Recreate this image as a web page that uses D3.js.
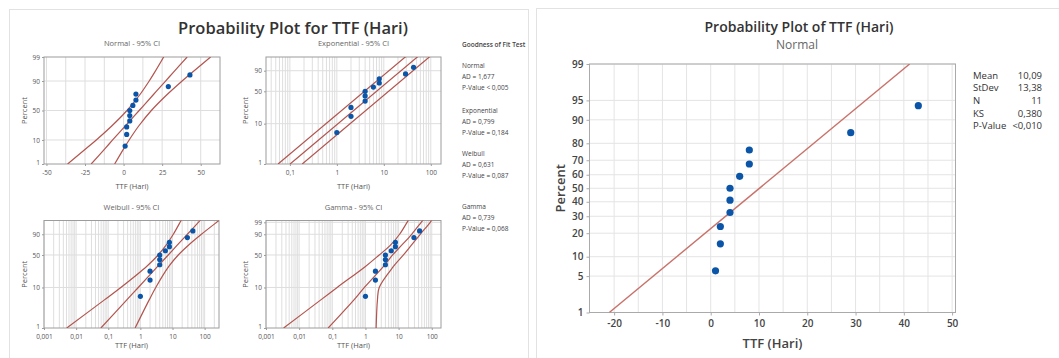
<!DOCTYPE html>
<html>
<head>
<meta charset="utf-8">
<script src="https://cdn.jsdelivr.net/npm/d3@7/dist/d3.min.js"></script>
<style>
  body { margin: 0; background: #fff; }
  svg { display: block; font-family: "Open Sans", "Noto Sans", sans-serif; }
</style>
</head>
<body>
<svg id="chart" width="1059" height="358"></svg>
<script>
// ---- data ----
const ttf = [1, 2, 2, 4, 4, 4, 6, 8, 8, 29, 43]
const percentRank = [6.1, 14.9, 23.7, 32.5, 41.2, 50.0, 58.8, 67.5, 76.3, 85.1, 93.9]

// fitted lines and 95% CI bands, x values at given percents
const normPct = [1, 5, 10, 25, 50, 75, 90, 95, 99]
const normFit = [-21.0, -11.9, -7.1, 1.1, 10.1, 19.1, 27.2, 32.1, 41.2]
const normLo = [-36.3, -24.1, -17.7, -7.7, 2.2, 10.4, 16.6, 20.0, 26.0]
const normHi = [-5.8, 0.2, 3.6, 9.8, 18.0, 27.9, 37.9, 44.2, 56.4]

const expPct = [1, 99.5]
const expFit = [0.101, 53.5]
const expLo = [0.056, 29.6]
const expHi = [0.183, 96.5]

const weibPct = [1, 5, 10, 30, 50, 70, 90, 99, 99.5]
const weibFit = [0.059, 0.378, 0.86, 3.45, 7.36, 13.8, 29.0, 63.8, 74.9]
const weibLo = [0.0051, 0.076, 0.246, 1.56, 3.58, 6.23, 10.6, 17.2, 18.9]
const weibHi = [0.686, 1.88, 3.01, 7.66, 15.1, 30.7, 79.3, 236, 296]

const gamPct = [1, 5, 10, 30, 50, 70, 90, 99, 99.5]
const gamFit = [0.075, 0.45, 0.93, 3.5, 6.6, 12.2, 24.8, 48, 55]
const gamLo = [0.0034, 0.045, 0.14, 1.0, 2.6, 5.6, 10.7, 18, 20]
const gamHi = [2.1, 2.3, 2.6, 7.0, 14, 24, 45, 90, 100]

const rightPct = [1, 99]
const rightFit = [-21.0, 41.2]

const gofNames = ['Normal', 'Exponential', 'Weibull', 'Gamma']
const gofAD = ['1,677', '0,799', '0,631', '0,739']
const gofP = ['< 0,005', '= 0,184', '= 0,087', '= 0,068']

const statLabels = ['Mean', 'StDev', 'N', 'KS', 'P-Value']
const statValues = ['10,09', '13,38', '11', '0,380', '<0,010']

const normXTicks = [-50, -25, 0, 25, 50]
const normXGrid = [-50, -37.5, -25, -12.5, 0, 12.5, 25, 37.5, 50]
const pctTicksSmall = [1, 10, 50, 90, 99]
const pctTicksWeib = [1, 10, 50, 90]
const pctTicksGam = [1, 10, 50, 90, 99]
const expXTicks = [0.1, 1, 10, 100]
const expXLabels = ['0,1', '1', '10', '100']
const logXTicks = [0.001, 0.01, 0.1, 1, 10, 100]
const logXLabels = ['0,001', '0,01', '0,1', '1', '10', '100']
const rightXTicks = [-20, -10, 0, 10, 20, 30, 40, 50]
const rightXGrid = [-20, -15, -10, -5, 0, 5, 10, 15, 20, 25, 30, 35, 40, 45, 50]
const rightYTicks = [1, 5, 10, 20, 30, 40, 50, 60, 70, 80, 90, 95, 99]

const svg = d3.select('#chart')

// inverse normal cdf (Acklam) for the probability axis
function qnorm(p) {
    const a = [-39.69683028665376, 220.9460984245205, -275.9285104469687, 138.3577518672690, -30.66479806614716, 2.506628277459239]
    const b = [-54.47609879822406, 161.5858368580409, -155.6989798598866, 66.80131188771972, -13.28068155288572]
    const c = [-0.007784894002430293, -0.3223964580411365, -2.400758277161838, -2.549732539343734, 4.374664141464968, 2.938163982698783]
    const d = [0.007784695709041462, 0.3224671290700398, 2.445134137142996, 3.754408661907416]
    const plow = 0.02425
    if (p < plow) {
        const q = Math.sqrt(-2 * Math.log(p))
        return (((((c[0] * q + c[1]) * q + c[2]) * q + c[3]) * q + c[4]) * q + c[5]) / ((((d[0] * q + d[1]) * q + d[2]) * q + d[3]) * q + 1)
    }
    if (p > 1 - plow) return -qnorm(1 - p)
    const q = p - 0.5, r = q * q
    return (((((a[0] * r + a[1]) * r + a[2]) * r + a[3]) * r + a[4]) * r + a[5]) * q / (((((b[0] * r + b[1]) * r + b[2]) * r + b[3]) * r + b[4]) * r + 1)
}
const tNorm = p => qnorm(p / 100)
const tWeib = p => Math.log(-Math.log(1 - p / 100))

function logGrid(lo, hi) {
    const out = []
    for (let e = -3; e <= 2; e++)
        for (let m = 1; m < 10; m++) {
            const v = m * Math.pow(10, e)
            if (v >= lo && v <= hi) out.push(v)
        }
    return out
}

let clipN = 0
function probPanel(o) {
    const g = svg.append('g')
    const x = (o.log ? d3.scaleLog() : d3.scaleLinear()).domain(o.xDomain).range([o.left, o.right])
    const yl = d3.scaleLinear().domain([o.t(o.pDomain[0]), o.t(o.pDomain[1])]).range([o.bottom, o.top])
    const y = p => yl(o.t(p))

    g.append('g').selectAll('line').data(o.xGrid).join('line')
        .attr('x1', d => x(d)).attr('x2', d => x(d))
        .attr('y1', o.top).attr('y2', o.bottom)
        .attr('stroke', o.grid).attr('stroke-width', 1)
    g.append('g').selectAll('line').data(o.yGrid).join('line')
        .attr('x1', o.left).attr('x2', o.right)
        .attr('y1', d => y(d)).attr('y2', d => y(d))
        .attr('stroke', o.grid).attr('stroke-width', 1)

    g.append('rect')
        .attr('x', o.left).attr('y', o.top)
        .attr('width', o.right - o.left).attr('height', o.bottom - o.top)
        .attr('fill', 'none').attr('stroke', o.frame).attr('stroke-width', 1)

    const ax = g.append('g').attr('transform', `translate(0,${o.bottom})`)
        .call(d3.axisBottom(x).tickValues(o.xTicks).tickFormat((d, i) => o.xLabels[i]).tickSize(o.tick).tickPadding(o.padX))
    const ay = g.append('g').attr('transform', `translate(${o.left},0)`)
        .call(d3.axisLeft(yl).tickValues(o.yTicks.map(o.t)).tickFormat((d, i) => o.yTicks[i]).tickSize(o.tick).tickPadding(o.pad))
    ;[ax, ay].forEach(a => {
        a.select('.domain').remove()
        a.selectAll('line').attr('stroke', o.frame)
        a.selectAll('text').attr('font-size', o.fs).attr('fill', o.text)
            .attr('font-family', '"Open Sans", sans-serif').attr('font-weight', o.weight)
    })
    // lowest percent label sits a touch higher, as in the reference
    ay.selectAll('.tick text').filter((d, i) => i === 0).attr('dy', o.firstDy)

    const id = 'clip' + (clipN++)
    svg.append('clipPath').attr('id', id).append('rect')
        .attr('x', o.left).attr('y', o.top)
        .attr('width', o.right - o.left).attr('height', o.bottom - o.top)

    const line = d3.line().x(d => x(d[1])).y(d => y(d[0])).curve(d3.curveCatmullRom)
    const cg = g.append('g').attr('clip-path', `url(#${id})`)
    o.curves.forEach(cv => {
        cg.append('path').datum(d3.zip(o.pct, cv)).attr('d', line)
            .attr('fill', 'none').attr('stroke', o.lineColor).attr('stroke-width', o.lineWidth)
    })

    g.append('g').selectAll('circle').data(d3.zip(ttf, percentRank)).join('circle')
        .attr('cx', d => x(d[0])).attr('cy', d => y(d[1])).attr('r', o.r)
        .attr('fill', '#0b55a8')

    if (o.title) g.append('text').attr('x', (o.left + o.right) / 2).attr('y', o.top - 11)
        .attr('text-anchor', 'middle').attr('font-size', 7.5).attr('fill', '#666').text(o.title)
    g.append('text').attr('x', (o.left + o.right) / 2).attr('y', o.xTitleY)
        .attr('text-anchor', 'middle').attr('font-size', o.axisFs).attr('fill', o.text)
        .attr('font-weight', o.weight).text('TTF (Hari)')
    g.append('text').attr('transform', `translate(${o.yTitleX},${(o.top + o.bottom) / 2}) rotate(-90)`)
        .attr('text-anchor', 'middle').attr('font-size', o.axisFs).attr('fill', o.text)
        .attr('font-weight', o.weight).text('Percent')
}

// panel backgrounds
svg.append('rect').attr('x', 9.5).attr('y', 9.5).attr('width', 519).attr('height', 360)
    .attr('fill', '#fff').attr('stroke', '#e2e2e2')
svg.append('rect').attr('x', 536.5).attr('y', 8.5).attr('width', 540).attr('height', 360)
    .attr('fill', '#fff').attr('stroke', '#e2e2e2')

// ---- left: four distribution plots ----
svg.append('text').attr('x', 293).attr('y', 34).attr('text-anchor', 'middle')
    .attr('font-size', 16.5).attr('font-weight', 600).attr('fill', '#333')
    .text('Probability Plot for TTF (Hari)')

const small = {
    tick: 2, pad: 2, padX: 4, firstDy: '0.05em', fs: 6.5, axisFs: 7.5, text: '#555', weight: 400,
    grid: '#dedede', frame: '#9c9c9c', lineColor: '#b3544e', lineWidth: 1.2, r: 2.6
}

probPanel(Object.assign({}, small, {
    left: 44, right: 220, top: 57, bottom: 164,
    xDomain: [-51.6, 62.5], t: tNorm, pDomain: [1, 99],
    xTicks: normXTicks, xLabels: normXTicks, xGrid: normXGrid,
    yTicks: pctTicksSmall, yGrid: [10, 50, 90],
    pct: normPct, curves: [normLo, normFit, normHi],
    title: 'Normal - 95% CI', xTitleY: 189, yTitleX: 27
}))
probPanel(Object.assign({}, small, {
    left: 266, right: 441, top: 57, bottom: 164, log: true,
    xDomain: [0.031, 165], t: tWeib, pDomain: [1, 99.4],
    xTicks: expXTicks, xLabels: expXLabels, xGrid: logGrid(0.031, 165),
    yTicks: pctTicksWeib, yGrid: [10, 50, 90],
    pct: expPct, curves: [expLo, expFit, expHi],
    title: 'Exponential - 95% CI', xTitleY: 189, yTitleX: 248
}))
probPanel(Object.assign({}, small, {
    left: 44, right: 219, top: 220.5, bottom: 328, log: true,
    xDomain: [0.001, 280], t: tWeib, pDomain: [1, 99.4],
    xTicks: logXTicks, xLabels: logXLabels, xGrid: logGrid(0.001, 280),
    yTicks: pctTicksWeib, yGrid: [10, 50, 90],
    pct: weibPct, curves: [weibLo, weibFit, weibHi],
    title: 'Weibull - 95% CI', xTitleY: 348, yTitleX: 27
}))
probPanel(Object.assign({}, small, {
    left: 266, right: 441, top: 220.5, bottom: 328, log: true,
    xDomain: [0.001, 190], t: tWeib, pDomain: [1, 99.4],
    xTicks: logXTicks, xLabels: logXLabels, xGrid: logGrid(0.001, 190),
    yTicks: pctTicksGam, yGrid: [10, 50, 90, 99],
    pct: gamPct, curves: [gamLo, gamFit, gamHi],
    title: 'Gamma - 95% CI', xTitleY: 348, yTitleX: 248
}))

// goodness of fit text
const gof = svg.append('g').attr('font-size', 6.5).attr('fill', '#444')
gof.append('text').attr('x', 462).attr('y', 47).attr('font-weight', 600).text('Goodness of Fit Test')
gofNames.forEach((n, i) => {
    const y0 = [67.5, 112.5, 155.5, 208.5][i]
    gof.append('text').attr('x', 462).attr('y', y0).text(n)
    gof.append('text').attr('x', 462).attr('y', y0 + 11).text('AD = ' + gofAD[i])
    gof.append('text').attr('x', 462).attr('y', y0 + 22).text('P-Value ' + gofP[i])
})

// ---- right: normal probability plot ----
svg.append('text').attr('x', 799).attr('y', 32).attr('text-anchor', 'middle')
    .attr('font-size', 14).attr('font-weight', 600).attr('fill', '#333')
    .text('Probability Plot of TTF (Hari)')
svg.append('text').attr('x', 797).attr('y', 48.5).attr('text-anchor', 'middle')
    .attr('font-size', 12).attr('fill', '#666').text('Normal')

probPanel({
    tick: 3, pad: 3, padX: 4, firstDy: '0.32em', fs: 10, axisFs: 13, text: '#444', weight: 600,
    grid: '#e4e4e4', frame: '#aaaaaa', lineColor: '#c8726b', lineWidth: 1.4, r: 3.6,
    left: 589.5, right: 955.5, top: 64, bottom: 312.5,
    xDomain: [-25.1, 50.7], t: tNorm, pDomain: [1, 99],
    xTicks: rightXTicks, xLabels: rightXTicks, xGrid: rightXGrid,
    yTicks: rightYTicks, yGrid: rightYTicks,
    pct: rightPct, curves: [rightFit],
    xTitleY: 348, yTitleX: 565
})

const st = svg.append('g').attr('font-size', 9.5).attr('fill', '#333')
statLabels.forEach((s, i) => {
    const y0 = 78.5 + i * 12.7
    st.append('text').attr('x', 973).attr('y', y0).text(s)
    st.append('text').attr('x', 1042).attr('y', y0).attr('text-anchor', 'end').text(statValues[i])
})
</script>
</body>
</html>
